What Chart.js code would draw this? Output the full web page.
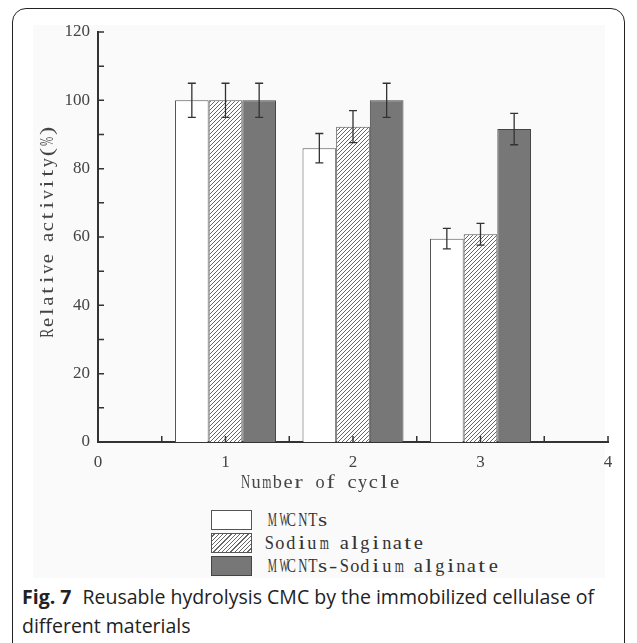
<!DOCTYPE html>
<html>
<head>
<meta charset="utf-8">
<script src="https://cdn.jsdelivr.net/npm/chart.js@4.4.0/dist/chart.umd.min.js"></script>
<style>
 body { margin: 0; background: #fff; width: 637px; height: 643px; overflow: hidden; position: relative; }
 #frame { position: absolute; left: 12px; top: 8px; width: 613px; height: 650px; border: 1.5px solid #222; border-radius: 14px; box-sizing: border-box; }
 #shade { position: absolute; left: 33px; top: 25px; width: 572px; height: 553px; background: #fafafa; }
 #chart { position: absolute; left: 0; top: 0; }
 .legend { position: absolute; left: 211px; top: 510px; font-family: "Liberation Serif", serif; font-size: 19px; color: #333; }
 .legend .row { height: 23px; position: relative; }
 .legend .box { position: absolute; left: 0; top: 0; width: 41px; height: 20px; border: 1px solid #555; box-sizing: border-box; }
 .legend .txt { position: absolute; left: 53px; top: 0; line-height: 20px; white-space: nowrap; }
 .legend .txt > span { display: inline-block; width: 10.65px; text-align: center; }
 .legend .txt > span > span { display: inline-block; transform-origin: center; }
 .caption { position: absolute; left: 22px; top: 582px; width: 600px; font-family: "Open Sans", sans-serif; font-size: 19.5px; line-height: 29px; color: #222; }
 .caption b { font-weight: 700; margin-right: 6px; }
</style>
</head>
<body>
<div id="shade"></div>
<div id="frame"></div>
<canvas id="chart" width="637" height="500"></canvas>
<div class="legend">
 <div class="row"><div class="box" style="background:#fff"></div><div class="txt">MWCNTs</div></div>
 <div class="row"><div class="box" style="background:repeating-linear-gradient(-45deg,#fff 0 2px,#666 2px 3px)"></div><div class="txt">Sodium alginate</div></div>
 <div class="row"><div class="box" style="background:#777;border-color:#444"></div><div class="txt">MWCNTs-Sodium alginate</div></div>
</div>
<div class="caption"><b>Fig. 7</b> Reusable hydrolysis CMC by the immobilized cellulase of different materials</div>
<script>
document.addEventListener('DOMContentLoaded', function () {

 // cycles and measured values
 const cycles = [1, 2, 3];
 const mwcnts = [100, 86, 59.5];
 const alginate = [100, 92.3, 60.8];
 const combined = [100, 100, 91.6];
 const mwcntsErr = [5, 4.3, 3];
 const alginateErr = [5, 4.7, 3.2];
 const combinedErr = [5, 5, 4.6];
 const yTicks = [0, 20, 40, 60, 80, 100, 120];
 const xTicks = [0, 1, 2, 3, 4];

 const serif = '"Liberation Serif", serif';
 const font = { family: serif, size: 17 };

 // the original uses a monospaced serif face: every letter gets the same cell,
 // stretched or squeezed so it roughly fills it
 const CHAR_W = 10.65;
 const probe = document.createElement('canvas').getContext('2d');
 function cellScale(ch, size) {
  probe.font = size + 'px ' + serif;
  const w = probe.measureText(ch).width;
  if (!w || ch === ' ') return 1;
  return Math.min((CHAR_W - 1.5) / w, 1.3);
 }
 document.querySelectorAll('.legend .txt').forEach(function (el) {
  const t = el.textContent;
  el.textContent = '';
  for (const ch of t) {
   const cell = document.createElement('span');
   const inner = document.createElement('span');
   inner.textContent = ch === ' ' ? '\u00a0' : ch;
   inner.style.transform = 'scaleX(' + cellScale(ch, 19) + ')';
   cell.appendChild(inner);
   el.appendChild(cell);
  }
 });

 // diagonal hatch for the sodium alginate bars
 const tile = document.createElement('canvas');
 tile.width = 4; tile.height = 4;
 const tc = tile.getContext('2d');
 tc.fillStyle = '#fff';
 tc.fillRect(0, 0, 4, 4);
 tc.strokeStyle = '#666';
 tc.lineWidth = 1;
 tc.beginPath();
 tc.moveTo(-1, 5); tc.lineTo(5, -1);
 tc.stroke();
 const ctx = document.getElementById('chart').getContext('2d');
 const hatch = ctx.createPattern(tile, 'repeat');

 const toPoints = (vals) => vals.map((v, i) => ({ x: cycles[i], y: v }));

 // error bars drawn on top of the bars
 const errorBars = {
  id: 'errorBars',
  afterDatasetsDraw(chart) {
   const c = chart.ctx, ys = chart.scales.y;
   c.save();
   c.strokeStyle = '#333';
   c.lineWidth = 1.3;
   chart.data.datasets.forEach((ds, i) => {
    chart.getDatasetMeta(i).data.forEach((bar, j) => {
     const v = ds.data[j].y, e = ds.errors[j];
     const top = ys.getPixelForValue(v + e), bot = ys.getPixelForValue(v - e);
     c.beginPath();
     c.moveTo(bar.x, top); c.lineTo(bar.x, bot);
     c.moveTo(bar.x - 4, top); c.lineTo(bar.x + 4, top);
     c.moveTo(bar.x - 4, bot); c.lineTo(bar.x + 4, bot);
     c.stroke();
    });
   });
   c.restore();
  }
 };

 // text centred on (x, y), one fixed cell per character
 function monoText(c, text, x, y, size) {
  c.font = size + 'px ' + serif;
  c.textAlign = 'center';
  c.textBaseline = 'middle';
  const chars = Array.from(text);
  let cx = x - CHAR_W * chars.length / 2 + CHAR_W / 2;
  chars.forEach(function (ch) {
   c.save();
   c.translate(cx, y);
   c.scale(cellScale(ch, size), 1);
   c.fillText(ch, 0, 0);
   c.restore();
   cx += CHAR_W;
  });
 }

 // inward tick marks and the axis titles
 const axisDecor = {
  id: 'axisDecor',
  afterDraw(chart) {
   const c = chart.ctx, xs = chart.scales.x, ys = chart.scales.y;
   const a = chart.chartArea;
   c.save();
   c.strokeStyle = '#333';
   c.lineWidth = 1.5;
   c.beginPath();
   for (let v = 10; v <= 120; v += 10) {
    const p = ys.getPixelForValue(v);
    c.moveTo(a.left, p); c.lineTo(a.left + 6, p);
   }
   for (let v = 0.5; v <= 4; v += 0.5) {
    const p = xs.getPixelForValue(v);
    c.moveTo(p, a.bottom); c.lineTo(p, a.bottom - 6);
   }
   c.stroke();
   c.fillStyle = '#444';
   monoText(c, 'Number of cycle', 320, 483, 19);
   c.translate(48, 232);
   c.rotate(-Math.PI / 2);
   monoText(c, 'Relative activity(%)', 0, 0, 19);
   c.restore();
  }
 };

 window.reuseChart = new Chart(ctx, {
  type: 'bar',
  data: {
   datasets: [
    {
     label: 'MWCNTs',
     data: toPoints(mwcnts),
     errors: mwcntsErr,
     backgroundColor: '#ffffff',
     borderColor: '#555',
     borderWidth: 1,
    },
    {
     label: 'Sodium alginate',
     data: toPoints(alginate),
     errors: alginateErr,
     backgroundColor: hatch,
     borderColor: '#555',
     borderWidth: 1,
    },
    {
     label: 'MWCNTs-Sodium alginate',
     data: toPoints(combined),
     errors: combinedErr,
     backgroundColor: '#777777',
     borderColor: '#444',
     borderWidth: 1,
    },
   ],
  },
  options: {
   responsive: false,
   animation: false,
   categoryPercentage: 0.792,
   barPercentage: 1,
   layout: { padding: { left: 38, right: 29, top: 32, bottom: 18 } },
   plugins: {
    legend: { display: false },
    tooltip: { enabled: false },
   },
   scales: {
    x: {
     type: 'linear',
     offset: false,
     min: 0,
     max: 4,
     afterBuildTicks: (s) => { s.ticks = xTicks.map(v => ({ value: v })); },
     ticks: { color: '#444', font: font, padding: 10 },
     grid: { display: false, drawTicks: false, offset: false },
     border: { display: true, color: '#333', width: 2 },
     afterFit: (s) => { s.height = 40; },
    },
    y: {
     min: 0,
     max: 120,
     afterBuildTicks: (s) => { s.ticks = yTicks.map(v => ({ value: v })); },
     ticks: { color: '#444', font: font, padding: 8 },
     grid: { display: false, drawTicks: false },
     border: { display: true, color: '#333', width: 2 },
     afterFit: (s) => { s.width = 60; },
    },
   },
  },
  plugins: [errorBars, axisDecor],
 });

});
</script>
</body>
</html>
